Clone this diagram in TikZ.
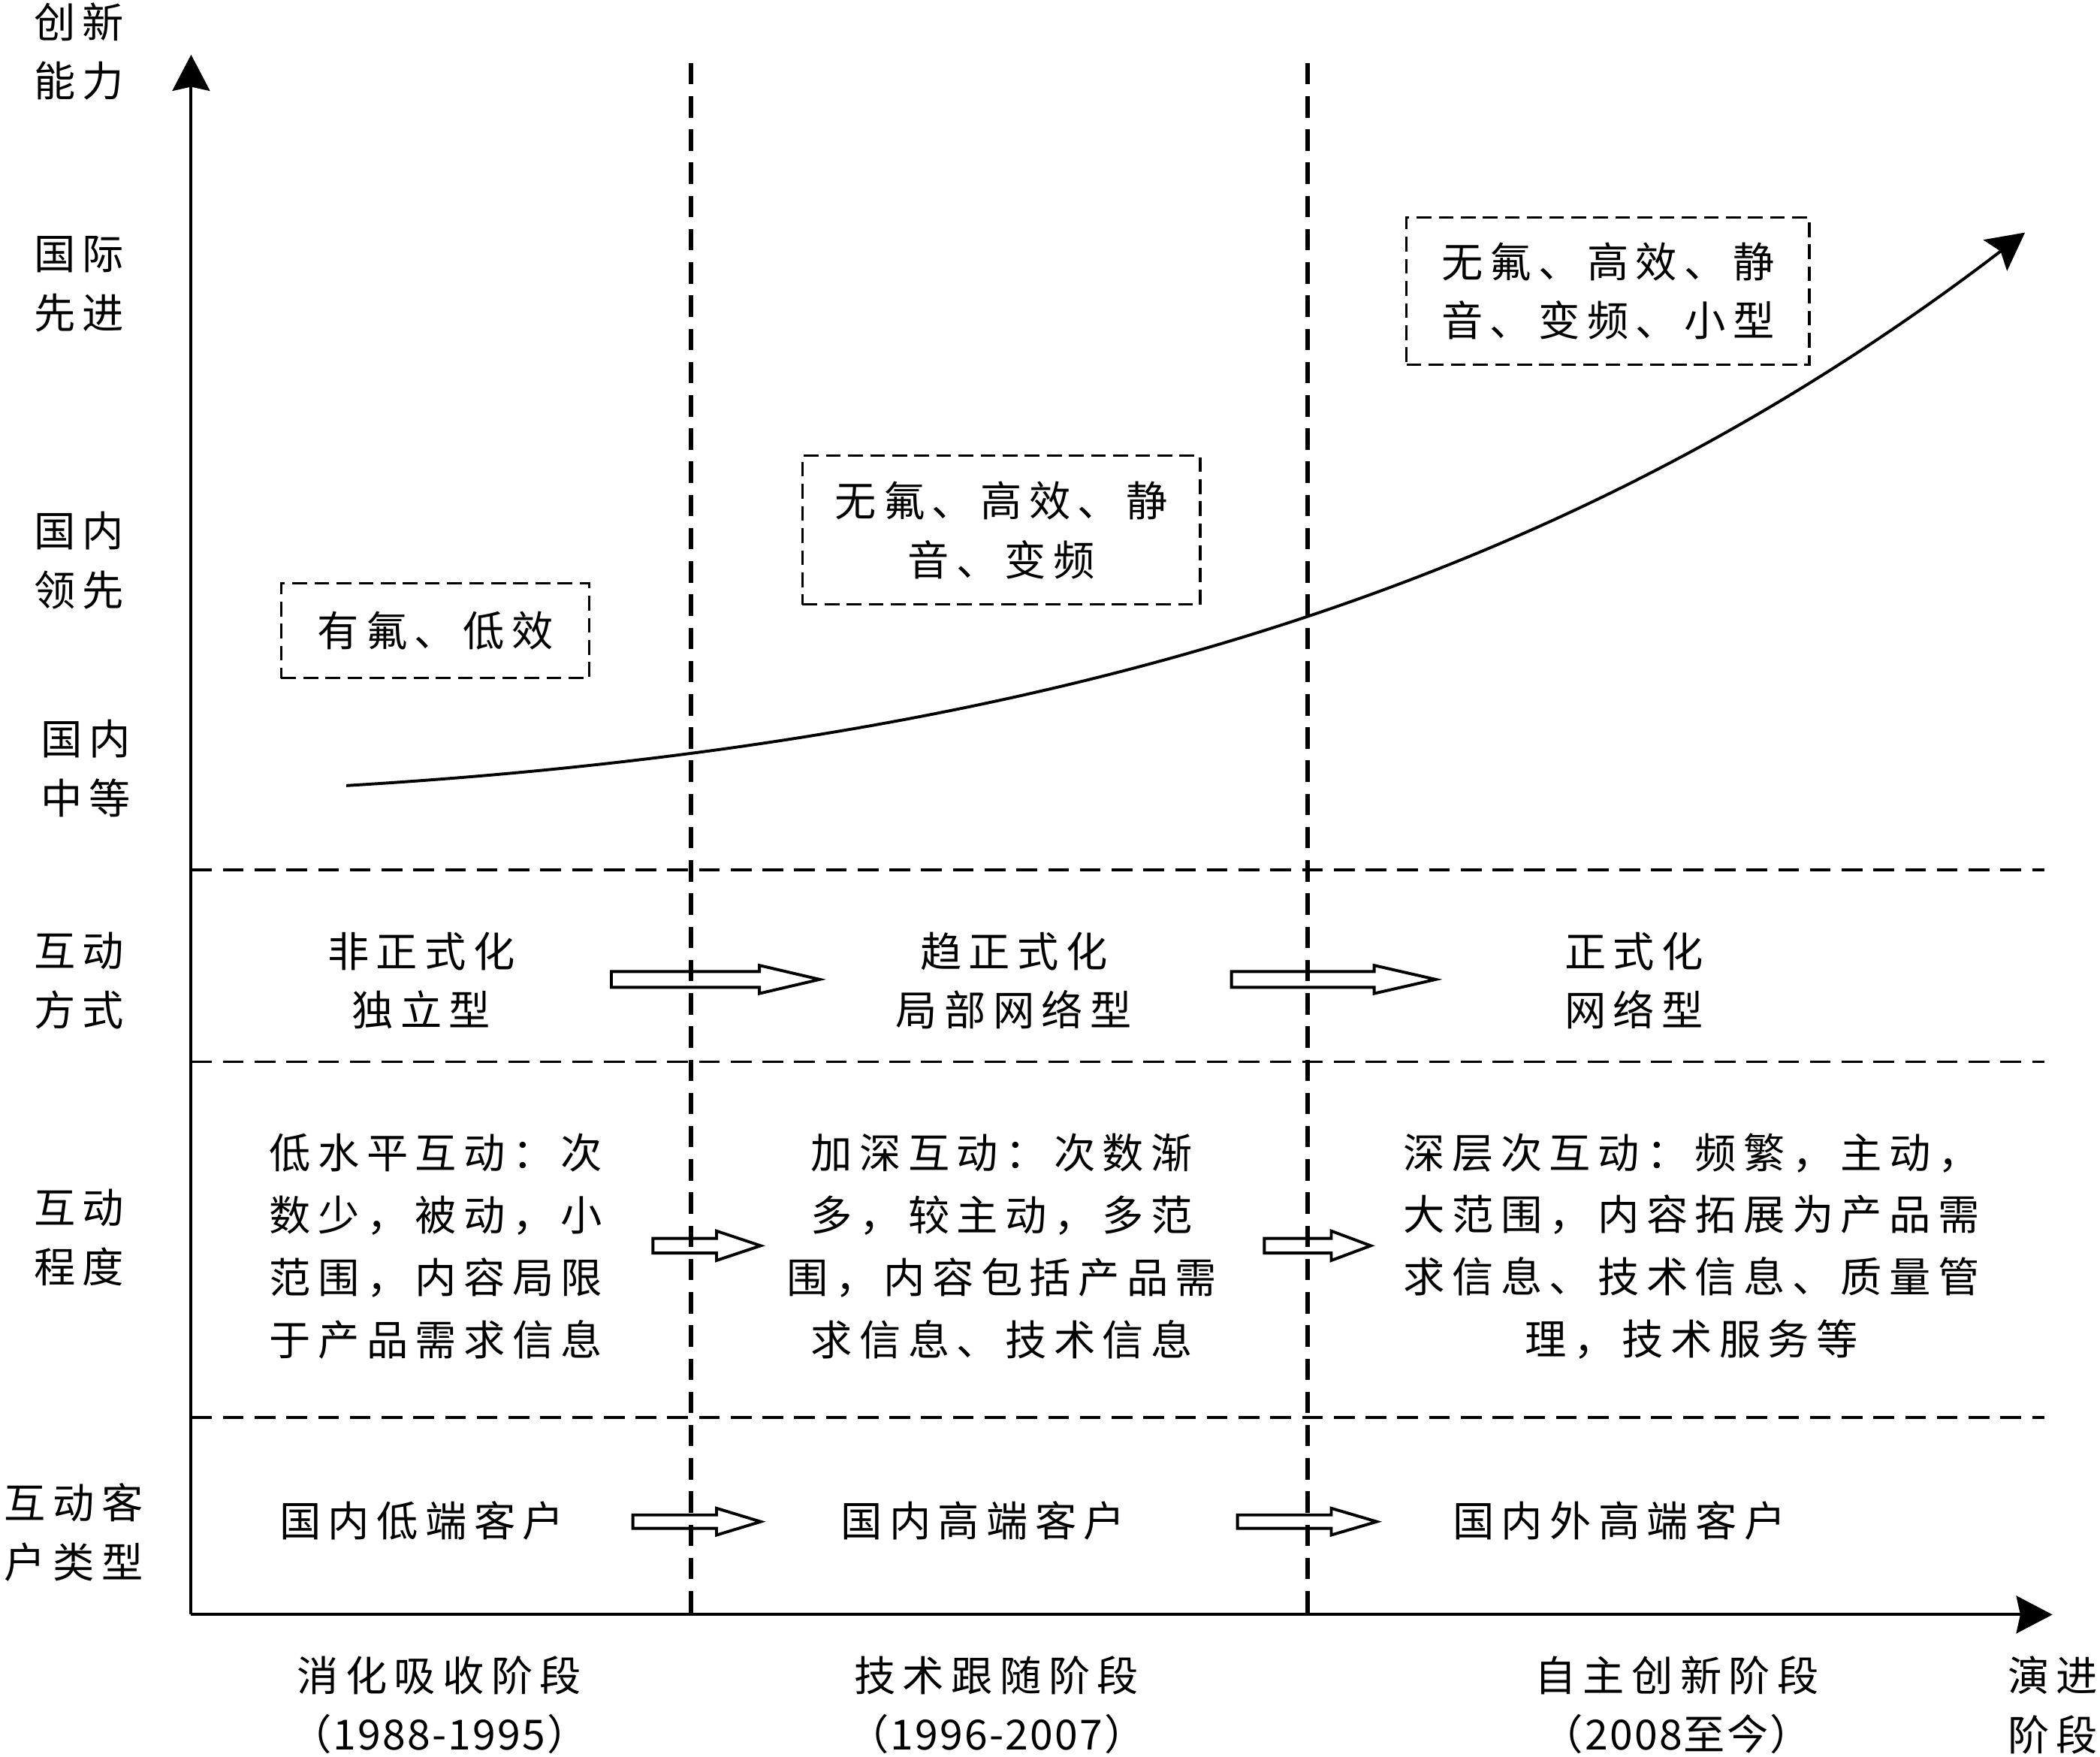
\documentclass[tikz,border=0pt]{standalone}
\usepackage{fontspec}
\newfontfamily\cjk[LetterSpace=17]{Noto Sans CJK SC}
\newfontfamily\cjkn[LetterSpace=4]{Noto Sans CJK SC}
\usetikzlibrary{arrows.meta}
\tikzset{
  txt/.style={font=\cjk\fontsize{31}{44}\selectfont, align=center, inner sep=0pt},
  txtb/.style={font=\cjk\fontsize{31}{46.5}\selectfont, align=center, inner sep=0pt},
  axisline/.style={line width=2.2pt, -{Stealth[length=27pt,width=28pt,inset=3pt]}},
  vdash/.style={line width=3.7pt, dash pattern=on 16pt off 8.8pt},
  hdash/.style={line width=2.2pt, dash pattern=on 15.5pt off 8.2pt},
  dbox/.style={draw, line width=1.8pt, dash pattern=on 11pt off 5.5pt, inner sep=0pt, align=center,
               font=\cjk\fontsize{31}{44}\selectfont},
  blk/.style={line width=2.2pt, line join=miter},
  growth/.style={line width=2.2pt, -{Stealth[length=28pt,width=29pt,inset=5pt]}},
}
\newcommand\blockarrowx[6]{% xl, xb, xt, y, shaft half, head half
  \draw[blk] ({#1},{#4-#5}) -- ({#2},{#4-#5}) -- ({#2},{#4-#6}) -- ({#3},{#4})
    -- ({#2},{#4+#6}) -- ({#2},{#4+#5}) -- ({#1},{#4+#5}) -- cycle;}
\begin{document}
\begin{tikzpicture}[x=1pt,y=-1pt]
\useasboundingbox (0,0) rectangle (1568,1311.7);
% axes and grid
\coordinate (O) at (142.7,1205.4);
\coordinate (ytip) at (142.7,40.8);
\coordinate (xtip) at (1532.5,1205.4);
\coordinate (h1l) at (142.7,649.2);  \coordinate (h1r) at (1526.5,649.2);
\coordinate (h2l) at (142.7,792.7);  \coordinate (h2r) at (1526.5,792.7);
\coordinate (h3l) at (142.7,1058.2); \coordinate (h3r) at (1526.5,1058.2);
\coordinate (v1t) at (516,47);   \coordinate (v1b) at (516,1208);
\coordinate (v2t) at (976.4,47); \coordinate (v2b) at (976.4,1208);
\draw[hdash] (h1l) -- (h1r);
\draw[hdash] (h2l) -- (h2r);
\draw[hdash] (h3l) -- (h3r);
\draw[vdash] (v1t) -- (v1b);
\draw[vdash] (v2t) -- (v2b);
\draw[axisline] (O) -- (ytip);
\draw[axisline] (O) -- (xtip);
% growth curve
\coordinate (c0) at (258.6,586.5);
\coordinate (c1) at (1512,173.6);
\draw[growth] (c0) .. controls (818.6,552.9) and (1190,420) .. (c1);
% dashed boxes
\node[dbox, minimum width=230pt, minimum height=70.8pt] (b1) at (325,470.9) {有氟、低效};
\node[dbox, minimum width=297pt, minimum height=111pt] (b2) at (747.7,395.8) {无氟、高效、静\\音、变频};
\node[dbox, minimum width=300.6pt, minimum height=110.2pt] (b3) at (1200.6,217.3) {无氟、高效、静\\音、变频、小型};
% left labels
\node[txt] (l1) at (59,38.5) {创新\\能力};
\node[txt] (l2) at (59,212) {国际\\先进};
\node[txt] (l3) at (59,418.5) {国内\\领先};
\node[txt] (l4) at (64,573.7) {国内\\中等};
\node[txt] (l5) at (59,732) {互动\\方式};
\node[txt] (l6) at (59,924) {互动\\程度};
\node[txt] (l7) at (55,1144) {互动客\\户类型};
% row 1
\node[txt] (r1a) at (314.5,732) {非正式化\\独立型};
\node[txt] (r1b) at (757,732) {趋正式化\\局部网络型};
\node[txt] (r1c) at (1220,732) {正式化\\网络型};
\blockarrowx{456.5}{567}{612}{731.2}{5.9}{10.5}
\blockarrowx{919.5}{1026}{1072}{731.2}{5.9}{10.5}
% row 2
\node[txtb] (r2a) at (325.5,930.4) {低水平互动：次\\数少，被动，小\\范围，内容局限\\于产品需求信息};
\node[txtb] (r2b) at (748,930.4) {加深互动：次数渐\\多，较主动，多范\\围，内容包括产品需\\求信息、技术信息};
\node[txtb] (r2c) at (1263,930.4) {深层次互动：频繁，主动，\\大范围，内容拓展为产品需\\求信息、技术信息、质量管\\理，技术服务等};
\blockarrowx{487.5}{535}{568}{930}{5.5}{11}
\blockarrowx{944}{994}{1023.5}{930}{5.5}{11}
% row 3
\node[txt] (r3a) at (315,1135.5) {国内低端客户};
\node[txt] (r3b) at (734,1135.5) {国内高端客户};
\node[txt] (r3c) at (1209,1135.5) {国内外高端客户};
\blockarrowx{472.5}{535}{568}{1136}{5}{10}
\blockarrowx{924}{994}{1028}{1136}{5}{10}
% bottom labels
\node[txt] (s1) at (328,1273) {消化吸收阶段\\{\cjkn （1988-1995）}};
\node[txt] (s2) at (744,1273) {技术跟随阶段\\{\cjkn （1996-2007）}};
\node[txt] (s3) at (1252,1273) {自主创新阶段\\{\cjkn （2008至今）}};
\node[txt, anchor=west] (s4) at (1499,1273) {演进\\阶段};
\end{tikzpicture}
\end{document}
